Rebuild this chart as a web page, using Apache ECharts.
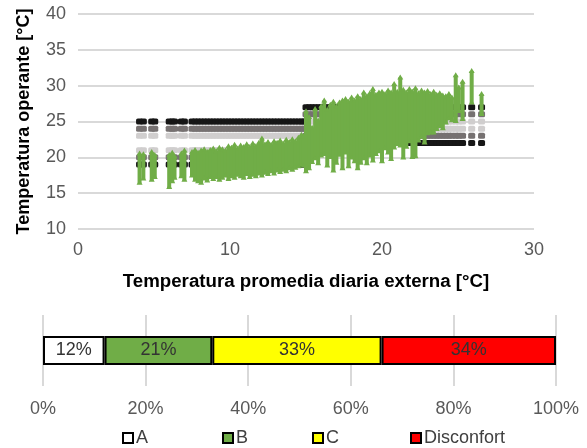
<!DOCTYPE html>
<html>
<head>
<meta charset="utf-8">
<script src="https://cdn.jsdelivr.net/npm/echarts@6/dist/echarts.min.js"></script>
<style>
  html, body { margin: 0; padding: 0; background: #ffffff; }
  #chart { width: 587px; height: 448px; }
</style>
</head>
<body>
<div id="chart"></div>
<script>
// Daily mean outdoor temperature [°C] of each monitored day
const outdoorTemp = [
  4.05, 4.3, 4.85, 5.05, 6.0, 6.2, 6.35, 6.8, 7.0,
  7.5, 7.7, 7.9, 8.1, 8.3, 8.5, 8.7, 8.9, 9.1, 9.3, 9.5, 9.7, 9.9,
  10.1, 10.3, 10.5, 10.7, 10.9, 11.1, 11.3, 11.5, 11.7, 11.9,
  12.1, 12.3, 12.5, 12.7, 12.9, 13.1, 13.3, 13.5, 13.7, 13.9,
  14.1, 14.3, 14.5, 14.7, 14.85,
  15.0, 15.2, 15.4, 15.6, 15.8, 16.0, 16.2, 16.4, 16.6, 16.8,
  17.0, 17.2, 17.4, 17.6, 17.8, 18.0, 18.2, 18.4, 18.6, 18.8,
  19.0, 19.2, 19.4, 19.6, 19.8, 20.0, 20.2, 20.4, 20.6, 20.8,
  21.0, 21.2, 21.4, 21.6, 21.8, 22.0, 22.2, 22.4, 22.6, 22.8,
  23.0, 23.2, 23.4, 23.6, 23.8, 24.0, 24.2, 24.4, 24.6, 24.85,
  25.05, 25.3, 25.9, 26.55
];

// Lowest hourly operative temperature of each day [°C]
const opTempMin = [
  16.6, 17.2, 17.0, 17.4, 16.0, 16.8, 17.3, 17.5, 17.0,
  17.6, 17.0, 16.8, 16.6, 17.2, 16.9, 17.4, 17.1, 17.4, 17.0, 17.3, 17.6, 17.1,
  17.5, 17.3, 17.7, 17.5, 17.3, 17.8, 17.4, 17.7, 17.5, 17.9,
  17.6, 18.0, 17.8, 18.2, 17.9, 18.3, 18.1, 18.4, 18.2, 18.6,
  18.4, 18.7, 18.9, 19.1, 19.0,
  18.2, 18.6, 19.5, 20.0, 19.3, 20.4, 20.6, 19.0, 20.2, 18.3,
  19.4, 20.5, 18.6, 20.8, 18.9, 20.1, 19.6, 18.6, 19.4, 20.0,
  19.3, 20.4, 19.7, 20.6, 21.0, 19.6, 21.4, 20.8, 19.9, 21.5,
  22.0, 21.8, 20.1, 21.6, 22.4, 20.2, 20.3, 22.5, 23.0, 22.2,
  23.5, 23.6, 23.6, 24.1, 24.5, 24.2, 25.0, 25.6, 25.3, 25.2,
  26.6, 25.5, 27.8, 26.2
];

// Highest hourly operative temperature of each day [°C]
const opTempMax = [
  20.4, 20.3, 20.6, 20.2, 20.2, 20.5, 20.0, 20.4, 20.8,
  20.6, 20.9, 20.5, 20.8, 21.0, 20.6, 20.9, 21.1, 20.7, 21.2, 21.0, 20.8, 21.4,
  21.2, 21.6, 21.1, 21.5, 21.3, 21.7, 21.3, 21.8, 21.4, 21.9,
  22.5, 21.7, 22.0, 21.6, 22.1, 21.9, 22.2, 21.8, 22.3, 22.0,
  22.4, 22.1, 22.6, 23.0, 22.8,
  26.3, 25.5, 24.0, 26.6, 25.0, 27.0, 27.8, 26.5, 27.2, 27.6,
  27.0, 27.5, 27.8, 28.0, 27.6, 28.2, 27.8, 28.4, 28.0, 28.9,
  28.4, 28.8, 29.4, 28.6, 28.9, 29.0, 28.7, 29.2, 28.9, 30.1,
  29.0, 31.0, 29.3, 28.9, 29.4, 29.0, 29.5, 28.8, 29.2, 28.9,
  29.1, 28.7, 29.0, 28.6, 28.8, 28.5, 28.4, 28.7, 28.2, 31.3,
  29.6, 30.4, 31.9, 28.7
];

// Comfort band limits [lower, upper] per category and season
const seasonSplitTemp = 15;
const heatingLimits = { I: [21, 23], II: [20, 24], III: [19, 25] };
const coolingLimits = { I: [24, 25], II: [23, 26], III: [22, 27] };
const limitColors = { I: '#d0cece', II: '#767171', III: '#161616' };

// Share of occupied hours per comfort category [%]
const comfortCategories = ['A', 'B', 'C', 'Disconfort'];
const comfortShares = [12, 21, 33, 34];
const comfortColors = ['#ffffff', '#70ad47', '#ffff00', '#ff0000'];

// Axis ticks
const opTempTicks = { min: 10, max: 40, step: 5 };
const outdoorTicks = { min: 0, max: 30, step: 10 };
const shareTicks = { min: 0, max: 100, step: 20 };

const FONT = '"Liberation Sans", Arial, sans-serif';
const TICK_COLOR = '#595959';
const GRID_COLOR = '#d9d9d9';

// Marker series for the limits of each category (lower and upper edge)
const limitSeries = [];
['I', 'II', 'III'].forEach(function (cat) {
  [0, 1].forEach(function (edge) {
    limitSeries.push({
      type: 'scatter',
      xAxisIndex: 0,
      yAxisIndex: 0,
      symbol: 'roundRect',
      symbolSize: [7, 6],
      silent: true,
      z: 2,
      itemStyle: { color: limitColors[cat], opacity: 1 },
      data: outdoorTemp.map(function (t) {
        const lim = t < seasonSplitTemp ? heatingLimits[cat] : coolingLimits[cat];
        return [t, lim[edge]];
      })
    });
  });
});

// Daily spread of the operative temperature, drawn as stacked triangle markers
const dailySpread = outdoorTemp.map(function (t, i) {
  return [t, opTempMin[i], opTempMax[i]];
});

const green = '#70ad47';
const spreadSeries = {
  type: 'custom',
  xAxisIndex: 0,
  yAxisIndex: 0,
  silent: true,
  z: 5,
  data: dailySpread,
  encode: { x: 0, y: [1, 2] },
  renderItem: function (params, api) {
    const x = api.value(0);
    const lo = api.coord([x, api.value(1)]);
    const hi = api.coord([x, api.value(2)]);
    const w = 4;
    return {
      type: 'group',
      children: [
        {
          type: 'rect',
          shape: { x: hi[0] - w / 2, y: hi[1] - 1, width: w, height: lo[1] - hi[1] + 3 },
          style: { fill: green }
        },
        {
          type: 'polygon',
          shape: { points: [[hi[0] - 3, hi[1] + 1], [hi[0] + 3, hi[1] + 1], [hi[0], hi[1] - 4]] },
          style: { fill: green }
        },
        {
          type: 'polygon',
          shape: { points: [[lo[0] - 3, lo[1] + 3], [lo[0] + 3, lo[1] + 3], [lo[0], lo[1] - 2]] },
          style: { fill: green }
        }
      ]
    };
  }
};

// Stacked horizontal bar of comfort categories
const shareSeries = comfortCategories.map(function (name, i) {
  return {
    name: name,
    type: 'bar',
    stack: 'share',
    xAxisIndex: 1,
    yAxisIndex: 1,
    barWidth: 29,
    silent: true,
    itemStyle: { color: comfortColors[i], borderColor: '#000000', borderWidth: 2 },
    label: {
      show: true,
      position: 'inside',
      formatter: '{c}%',
      fontFamily: FONT,
      fontSize: 18,
      color: '#333333'
    },
    data: [comfortShares[i]]
  };
});

const legendLefts = [117, 217, 307, 405];
const legends = comfortCategories.map(function (name, i) {
  return {
    data: [name],
    left: legendLefts[i],
    top: 424,
    icon: 'rect',
    itemWidth: 10,
    itemHeight: 10,
    itemGap: 0,
    selectedMode: false,
    textStyle: { fontFamily: FONT, fontSize: 18, color: '#404040', padding: [0, 0, 0, -2] }
  };
});

const chart = echarts.init(document.getElementById('chart'), null, { renderer: 'canvas' });
chart.setOption({
  animation: false,
  backgroundColor: '#ffffff',
  legend: legends,
  grid: [
    { left: 78, right: 53, top: 14, height: 215 },
    { left: 43, right: 31, top: 315, height: 71 }
  ],
  xAxis: [
    {
      type: 'value',
      gridIndex: 0,
      min: outdoorTicks.min,
      max: outdoorTicks.max,
      interval: outdoorTicks.step,
      axisLine: { show: false },
      axisTick: { show: false },
      splitLine: { show: false },
      axisLabel: { fontFamily: FONT, fontSize: 18, color: TICK_COLOR, margin: 12 },
      name: 'Temperatura promedia diaria externa [°C]',
      nameLocation: 'middle',
      nameGap: 43,
      nameTextStyle: { fontFamily: FONT, fontSize: 18.7, fontWeight: 'bold', color: '#000000', verticalAlign: 'top' }
    },
    {
      type: 'value',
      gridIndex: 1,
      min: shareTicks.min,
      max: shareTicks.max,
      interval: shareTicks.step,
      axisLine: { show: false },
      axisTick: { show: false },
      splitLine: { show: true, lineStyle: { color: GRID_COLOR, width: 2 } },
      axisLabel: { fontFamily: FONT, fontSize: 18, color: TICK_COLOR, margin: 14, formatter: '{value}%' }
    }
  ],
  yAxis: [
    {
      type: 'value',
      gridIndex: 0,
      min: opTempTicks.min,
      max: opTempTicks.max,
      interval: opTempTicks.step,
      axisLine: { show: false },
      axisTick: { show: false },
      splitLine: { show: true, lineStyle: { color: GRID_COLOR, width: 2 } },
      axisLabel: { fontFamily: FONT, fontSize: 18, color: TICK_COLOR, margin: 12 },
      name: 'Temperatura operante [°C]',
      nameLocation: 'middle',
      nameGap: 45,
      nameTextStyle: { fontFamily: FONT, fontSize: 18, fontWeight: 'bold', color: '#000000' }
    },
    {
      type: 'category',
      gridIndex: 1,
      data: ['Confort'],
      axisLine: { show: false },
      axisTick: { show: false },
      axisLabel: { show: false },
      splitLine: { show: false }
    }
  ],
  series: limitSeries.concat([spreadSeries]).concat(shareSeries)
});
</script>
</body>
</html>
